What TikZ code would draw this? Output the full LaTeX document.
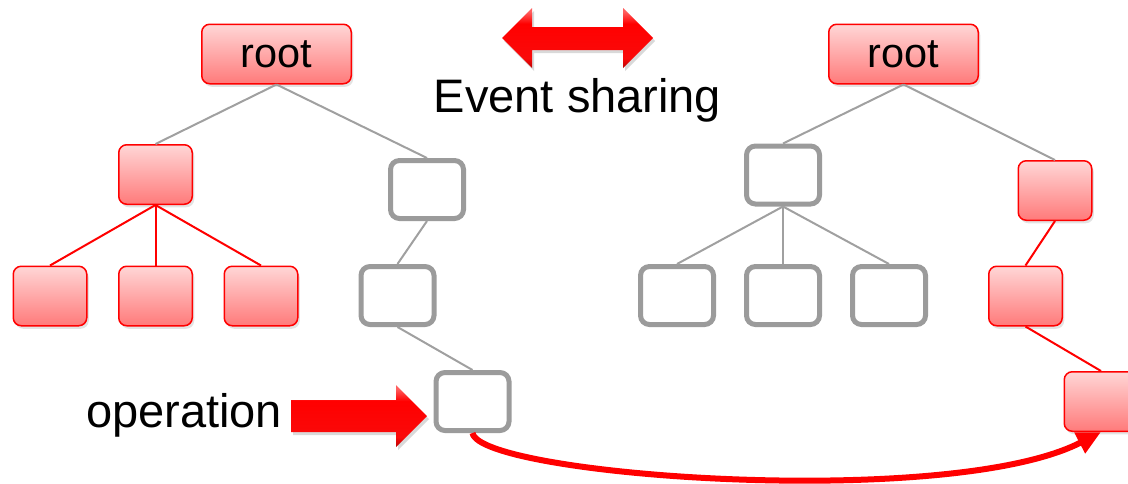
\documentclass[tikz,border=0pt]{standalone}
\usepackage{fontspec}
\setmainfont{Liberation Sans}
\usetikzlibrary{shadows,arrows.meta}
\definecolor{pinktop}{RGB}{255,214,214}
\definecolor{pinkbot}{RGB}{255,122,122}
\definecolor{boxgray}{RGB}{155,155,155}
\definecolor{linegray}{RGB}{160,160,160}
\definecolor{arrtop}{RGB}{255,95,95}
\definecolor{arrmid}{RGB}{250,10,10}
\definecolor{arrbot}{RGB}{185,0,0}
\pgfdeclareverticalshading{glossyred}{100bp}{color(0bp)=(arrbot); color(25bp)=(arrbot);
  color(33bp)=(arrmid); color(62bp)=(red); color(72bp)=(arrtop); color(100bp)=(arrtop)}
\begin{document}
\begin{tikzpicture}[x=1pt,y=-1pt,
  redbox/.style={draw=red, line width=1.5pt, rounded corners=8pt,
    top color=pinktop, bottom color=pinkbot, minimum width=73.5pt,
    minimum height=59.5pt, inner sep=0pt,
    drop shadow={shadow xshift=2pt, shadow yshift=-3pt, opacity=0.22}},
  rootbox/.style={redbox, minimum width=149.5pt,
    font=\fontsize{41.5}{48}\selectfont},
  graybox/.style={draw=boxgray, line width=5pt, fill=white, rounded corners=9pt,
    minimum width=73pt, minimum height=58pt, inner sep=0pt},
  grayline/.style={draw=linegray, line width=2pt},
  redline/.style={draw=red, line width=2pt},
  bigtext/.style={font=\fontsize{47}{56}\selectfont, inner sep=0pt, anchor=base},
  blockarrow/.style={shading=glossyred,
    drop shadow={shadow xshift=2pt, shadow yshift=-3pt, opacity=0.3}},
  curvearrow/.style={draw=red, line width=6pt, -{Triangle[length=24pt,width=22pt]}}
]
\useasboundingbox (0,0) rectangle (1128,483);

% left tree
\node[rootbox] (lroot) at (276.5,54) {root};
\node[redbox] (la) at (155.5,174.5) {};
\node[graybox] (lb) at (427,189.5) {};
\node[redbox] (laa) at (50,296) {};
\node[redbox] (lab) at (155.5,296) {};
\node[redbox] (lac) at (261,296) {};
\node[graybox] (lba) at (397.5,295.5) {};
\node[graybox] (lbaa) at (472.5,401.5) {};

\draw[grayline] (lroot.south) -- (la.north);
\draw[grayline] (lroot.south) -- (lb.north);
\draw[redline] (la.south) -- (laa.north);
\draw[redline] (la.south) -- (lab.north);
\draw[redline] (la.south) -- (lac.north);
\draw[grayline] (lb.south) -- (lba.north);
\draw[grayline] (lba.south) -- (lbaa.north);

% right tree
\node[rootbox] (rroot) at (903.5,54) {root};
\node[graybox] (ra) at (783,175) {};
\node[redbox] (rb) at (1055,190.5) {};
\node[graybox] (raa) at (677,295.5) {};
\node[graybox] (rab) at (783,295.5) {};
\node[graybox] (rac) at (889,295.5) {};
\node[redbox] (rba) at (1025.5,296) {};
\node[redbox] (rbaa) at (1101,401.5) {};

\draw[grayline] (rroot.south) -- (ra.north);
\draw[grayline] (rroot.south) -- (rb.north);
\draw[grayline] (ra.south) -- (raa.north);
\draw[grayline] (ra.south) -- (rab.north);
\draw[grayline] (ra.south) -- (rac.north);
\draw[redline] (rb.south) -- (rba.north);
\draw[redline] (rba.south) -- (rbaa.north);

% event sharing
\path[blockarrow] (502,38) -- (532,8) -- (532,27) -- (623,27) -- (623,8)
  -- (653,38) -- (623,68) -- (623,50) -- (532,50) -- (532,68) -- cycle;
\node[bigtext] (ev) at (577.5,112) {Event sharing};

% operation
\node[bigtext] (op) at (184,427) {operation};
\path[blockarrow] (291,400) -- (396,400) -- (396,385) -- (427,416)
  -- (396,447) -- (396,432) -- (291,432) -- cycle;

% curved arrow
\draw[curvearrow] (lbaa.south) .. controls (480,476) and (950,510) .. (rbaa.south);
\end{tikzpicture}
\end{document}
